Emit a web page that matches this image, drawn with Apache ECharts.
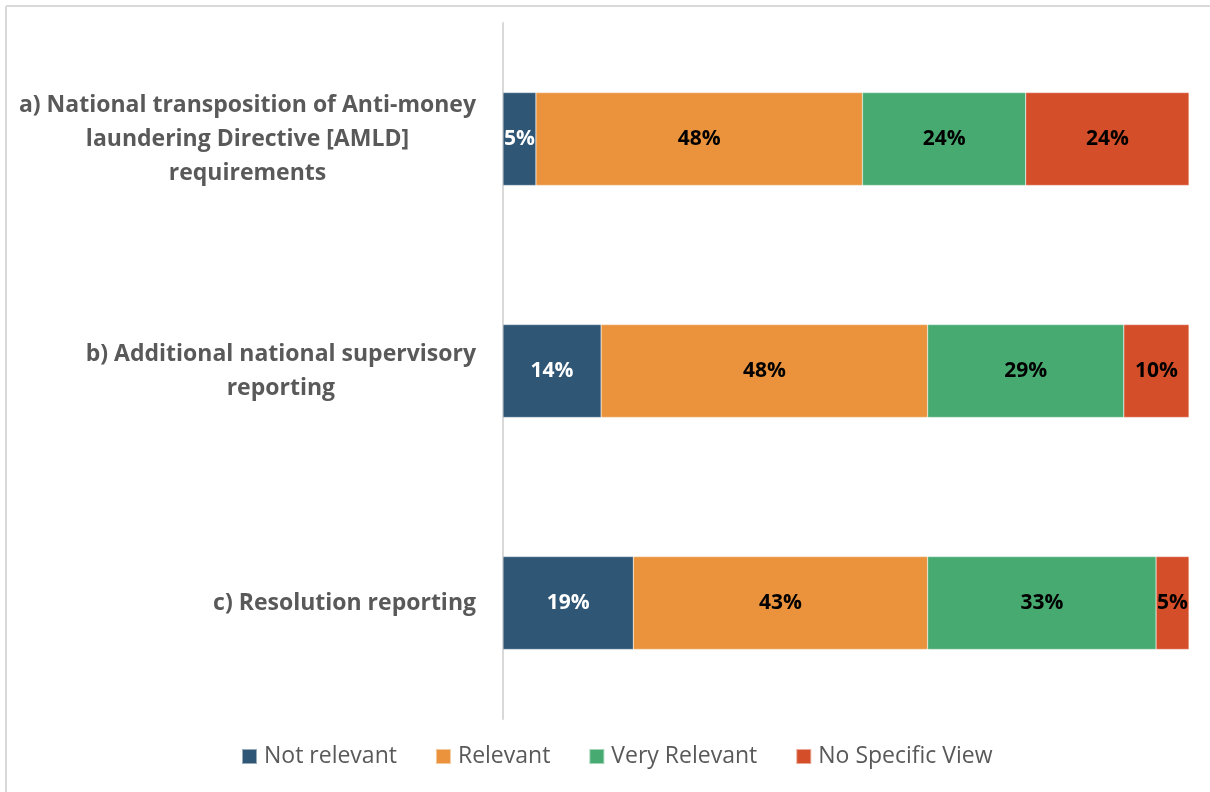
<!DOCTYPE html>
<html>
<head>
<meta charset="utf-8">
<script src="https://cdn.jsdelivr.net/npm/echarts@6/dist/echarts.min.js"></script>
<style>
html,body{margin:0;padding:0;background:#fff;}
#main{width:1210px;height:792px;}
</style>
</head>
<body>
<div id="main"></div>
<script>
const categories = [
  'a) National transposition of Anti-money\nlaundering Directive [AMLD]\nrequirements',
  'b) Additional national supervisory\nreporting',
  'c) Resolution reporting'
];
const seriesNames = ['Not relevant', 'Relevant', 'Very Relevant', 'No Specific View'];
const notRelevant = [4.8, 14.3, 19.0];
const relevant = [47.6, 47.6, 42.9];
const veryRelevant = [23.8, 28.6, 33.3];
const noSpecificView = [23.8, 9.5, 4.8];

const colors = ['#2F5675', '#EA933C', '#47AA71', '#D44E2A'];
const labelColors = ['#ffffff', '#000000', '#000000', '#000000'];
const dataSets = [notRelevant, relevant, veryRelevant, noSpecificView];

const chart = echarts.init(document.getElementById('main'));
const FONT = 'Open Sans';

const series = dataSets.map((d, i) => ({
  name: seriesNames[i],
  type: 'bar',
  stack: 'total',
  barWidth: '40%',
  data: d,
  itemStyle: { color: colors[i], borderColor: 'rgba(255,255,255,0.5)', borderWidth: 0.5 },
  label: {
    show: true,
    position: 'inside',
    formatter: p => Math.round(p.value) + '%',
    color: labelColors[i],
    fontFamily: FONT,
    fontWeight: 'bold',
    fontSize: 21
  }
}));

chart.setOption({
  animation: false,
  backgroundColor: '#ffffff',
  color: colors,
  grid: { left: 503, right: 21, top: 23, bottom: 73, containLabel: false },
  xAxis: {
    type: 'value', min: 0, max: 100,
    show: false
  },
  yAxis: {
    type: 'category',
    inverse: true,
    data: categories,
    axisTick: { show: false },
    axisLine: { show: true, lineStyle: { color: '#d9d9d9', width: 2 } },
    axisLabel: {
      margin: 27,
      formatter: v => v.split('\n').map(s => '{c|' + s + '}').join('\n'),
      rich: {
        c: {
          align: 'center',
          fontFamily: FONT,
          fontWeight: 'bold',
          fontSize: 23,
          color: '#595959',
          lineHeight: 34
        }
      }
    }
  },
  legend: {
    bottom: 19,
    left: 236,
    itemWidth: 15,
    itemHeight: 15,
    itemGap: 38,
    icon: 'rect',
    textStyle: { fontFamily: FONT, fontSize: 23, color: '#595959', padding: [0, 0, 0, 2] },
    data: seriesNames
  },
  graphic: [
    { type: 'line', shape: { x1: 6, y1: 6, x2: 1210, y2: 6 }, style: { stroke: '#d9d9d9', lineWidth: 2 } },
    { type: 'line', shape: { x1: 6, y1: 6, x2: 6, y2: 792 }, style: { stroke: '#d9d9d9', lineWidth: 2 } }
  ],
  series: series
});
</script>
</body>
</html>
